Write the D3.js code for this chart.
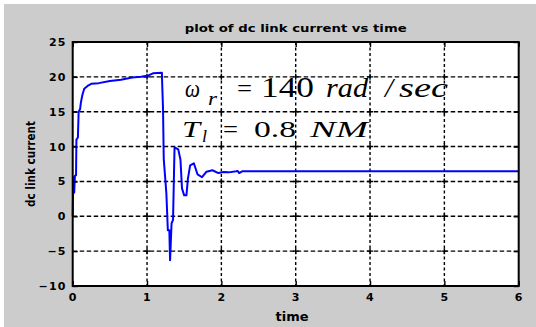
<!DOCTYPE html>
<html>
<head>
<meta charset="utf-8">
<script src="https://cdn.jsdelivr.net/npm/d3@7"></script>
<style>
  html, body { margin: 0; padding: 0; background: #ffffff; }
  svg { display: block; }
</style>
</head>
<body>
<script>
// DC link current response of the drive (time in s, current in A)
const timeVals = [0, 0.005, 0.012, 0.02, 0.03, 0.045, 0.05, 0.07, 0.08, 0.1, 0.11, 0.13, 0.155, 0.2, 0.25, 0.35, 0.5, 0.65, 0.8, 0.92, 1.02, 1.08, 1.2, 1.205, 1.215, 1.225, 1.26, 1.28, 1.3, 1.31, 1.33, 1.35, 1.37, 1.42, 1.45, 1.47, 1.5, 1.53, 1.55, 1.58, 1.63, 1.68, 1.74, 1.8, 1.88, 1.96, 2.03, 2.1, 2.2, 2.22, 2.24, 2.28, 6];
const currentVals = [0, 3.3, 5.6, 3.4, 5.8, 5.9, 11.0, 11.3, 15.0, 15.4, 16.3, 17.4, 18.3, 18.7, 19.0, 19.1, 19.4, 19.6, 19.9, 20.0, 20.2, 20.5, 20.6, 18.7, 15.5, 8.2, 3.3, -2.0, -2.0, -6.3, -1.0, -0.5, 9.9, 9.6, 8.1, 4.0, 3.0, 3.0, 5.4, 7.3, 7.6, 6.0, 5.6, 6.4, 6.6, 6.2, 6.35, 6.3, 6.45, 6.5, 6.2, 6.45, 6.45];

const xTicks = [0, 1, 2, 3, 4, 5, 6];
const yTicks = [-10, -5, 0, 5, 10, 15, 20, 25];

const titleText = "plot of dc link current vs time";
const xLabel = "time";
const yLabel = "dc link current";

const W = 536, H = 327;
const plotL = 72.7, plotR = 518.7, plotT = 42, plotB = 286;

const svg = d3.select("body").append("svg").attr("width", W).attr("height", H);

// figure background
svg.append("rect").attr("x", 0).attr("y", 0).attr("width", W).attr("height", H).attr("fill", "#ffffff");
svg.append("rect").attr("x", 4).attr("y", 4).attr("width", W - 4).attr("height", H - 4).attr("fill", "#cccccc");

const x = d3.scaleLinear().domain([0, 6]).range([plotL, plotR]);
const y = d3.scaleLinear().domain([-10, 25]).range([plotB, plotT]);

// axes area
svg.append("rect").attr("x", plotL).attr("y", plotT).attr("width", plotR - plotL).attr("height", plotB - plotT).attr("fill", "#ffffff");

// dotted grid
const grid = svg.append("g").attr("stroke", "#000").attr("stroke-width", 1.4).attr("fill", "none");
grid.selectAll("line.v").data(xTicks.slice(1, -1)).join("line")
  .attr("x1", d => x(d)).attr("x2", d => x(d)).attr("y1", plotT).attr("y2", plotB)
  .attr("stroke-dasharray", "3,2.5");
grid.selectAll("line.h").data(yTicks.slice(1, -1)).join("line")
  .attr("x1", plotL).attr("x2", plotR).attr("y1", d => y(d)).attr("y2", d => y(d))
  .attr("stroke-dasharray", "4.5,2.5");

// small crosses where grid lines meet
const crosses = [];
xTicks.slice(1, -1).forEach(a => yTicks.slice(1, -1).forEach(b => crosses.push([a, b])));
const cr = svg.append("g").attr("stroke", "#000").attr("stroke-width", 1.4);
cr.selectAll("path").data(crosses).join("path")
  .attr("d", d => `M${x(d[0]) - 3},${y(d[1])}H${x(d[0]) + 3}M${x(d[0])},${y(d[1]) - 3}V${y(d[1]) + 3}`);

// curve
const pts = timeVals.map((t, i) => [t, currentVals[i]]);
svg.append("path").datum(pts)
  .attr("fill", "none").attr("stroke", "#0000ff").attr("stroke-width", 2)
  .attr("stroke-linejoin", "round")
  .attr("d", d3.line().x(d => x(d[0])).y(d => y(d[1])));

// axes with inward ticks
const tickFont = g => g.selectAll("text")
  .attr("font-family", "DejaVu Sans").attr("font-weight", "bold").attr("font-size", 11)
  .attr("letter-spacing", 1.2).attr("fill", "#000");

const axB = svg.append("g").attr("transform", `translate(0,${plotB})`)
  .call(d3.axisBottom(x).tickValues(xTicks).tickFormat(d3.format("d")).tickSize(-5).tickPadding(7).tickSizeOuter(0));
const axT = svg.append("g").attr("transform", `translate(0,${plotT})`)
  .call(d3.axisTop(x).tickValues(xTicks).tickSize(-5).tickFormat("").tickSizeOuter(0));
const axL = svg.append("g").attr("transform", `translate(${plotL},0)`)
  .call(d3.axisLeft(y).tickValues(yTicks).tickFormat(d3.format("d")).tickSize(-5).tickPadding(6).tickSizeOuter(0));
const axR = svg.append("g").attr("transform", `translate(${plotR},0)`)
  .call(d3.axisRight(y).tickValues(yTicks).tickSize(-5).tickFormat("").tickSizeOuter(0));
[axB, axT, axL, axR].forEach(g => {
  g.select(".domain").remove();
  g.selectAll("line").attr("stroke", "#000").attr("stroke-width", 1.4);
  tickFont(g);
});

// axes box
svg.append("rect").attr("x", plotL).attr("y", plotT).attr("width", plotR - plotL).attr("height", plotB - plotT)
  .attr("fill", "none").attr("stroke", "#000").attr("stroke-width", 2);

// title and labels
svg.append("text").attr("x", (plotL + plotR) / 2).attr("y", 32).attr("text-anchor", "middle")
  .attr("font-family", "DejaVu Sans").attr("font-weight", "bold").attr("font-size", 10.5)
  .attr("textLength", 222).attr("lengthAdjust", "spacingAndGlyphs").text(titleText);
svg.append("text").attr("x", 292).attr("y", 321).attr("text-anchor", "middle")
  .attr("font-family", "DejaVu Sans").attr("font-weight", "bold").attr("font-size", 11.5)
  .attr("textLength", 33).attr("lengthAdjust", "spacingAndGlyphs").text(xLabel);
svg.append("text").attr("transform", `translate(35,${(plotT + plotB) / 2}) rotate(-90)`).attr("text-anchor", "middle")
  .attr("font-family", "DejaVu Sans").attr("font-weight", "bold").attr("font-size", 11.5)
  .attr("textLength", 86).attr("lengthAdjust", "spacingAndGlyphs").text(yLabel);

// annotation: operating point
const ann = svg.append("g").attr("font-family", "Liberation Serif").attr("fill", "#000");
const piece = (txt, x0, x1, base, size, italic) => {
  const t = ann.append("text").attr("x", x0).attr("y", base).attr("font-size", size)
    .attr("font-style", italic ? "italic" : "normal").text(txt);
  if (x1 != null) t.attr("textLength", x1 - x0).attr("lengthAdjust", "spacingAndGlyphs");
  return t;
};
piece("ω", 185, 200, 97, 26, true);
piece("r", 208, 217, 105, 18, true);
piece("=", 237, 252, 97, 26, false);
piece("140", 261, 314, 97, 29, false);
piece("rad", 326, 368, 97, 27, true);
piece("/", 385, 393, 97, 27, true);
piece("sec", 399, 448, 97, 27, true);

piece("T", 182, 200, 137, 23, true);
piece("l", 202, 207, 142, 16, true);
piece("=", 223, 238, 137, 23, false);
piece("0.8", 254, 296, 137, 23, false);
piece("NM", 310, 368, 137, 23, true);
</script>
</body>
</html>
